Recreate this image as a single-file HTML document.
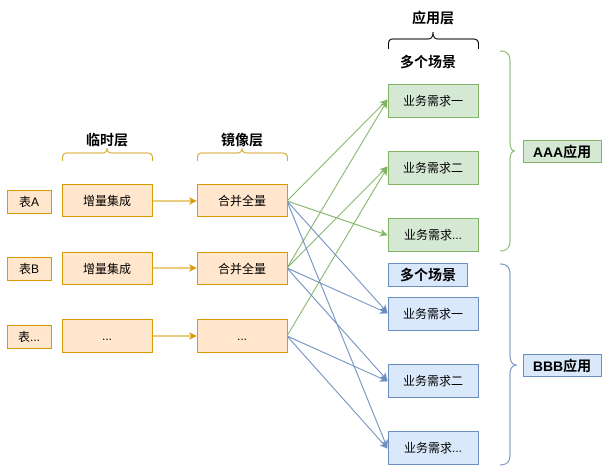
<!DOCTYPE html>
<html><head><meta charset="utf-8"><style>
html,body{margin:0;padding:0;background:#fff;width:608px;height:472px;overflow:hidden}
text{font-family:"Liberation Sans","Noto Sans CJK SC",sans-serif;font-size:12px;fill:#000}
.b{font-weight:bold;font-size:14px}
</style></head><body>
<svg width="608" height="472" viewBox="0 0 608 472" xmlns="http://www.w3.org/2000/svg">
<defs>
<marker id="ag" viewBox="0 0 10 10" refX="9" refY="5" markerWidth="8" markerHeight="8" orient="auto" markerUnits="userSpaceOnUse"><path d="M0,0 L10,5 L0,10 L3,5z" fill="#82b366"/></marker>
<marker id="ab" viewBox="0 0 10 10" refX="9" refY="5" markerWidth="8" markerHeight="8" orient="auto" markerUnits="userSpaceOnUse"><path d="M0,0 L10,5 L0,10 L3,5z" fill="#6c8ebf"/></marker>
<marker id="ao" viewBox="0 0 10 10" refX="9" refY="5" markerWidth="8" markerHeight="8" orient="auto" markerUnits="userSpaceOnUse"><path d="M0,0 L10,5 L0,10 L3,5z" fill="#d79b00"/></marker>
</defs>
<g fill="none" stroke-width="1">
<!-- braces -->
<path d="M62.5,161 V158 Q62.5,153 67,153 H102 Q107,153 107,148 Q107,153 112,153 H147 Q152.5,153 152.5,158 V161" stroke="#d6a72a"/>
<path d="M197.5,161 V158 Q197.5,153 202,153 H237 Q242,153 242,148 Q242,153 247,153 H282 Q287.5,153 287.5,158 V161" stroke="#d6a72a"/>
<path d="M388.5,49 V44 Q388.5,39 393,39 H428 Q433,39 433,32 Q433,39 438,39 H473 Q478.5,39 478.5,44 V49" stroke="#000"/>
<path d="M500,51 Q510,51 510,61 V141 Q510,151 515,151 Q510,151 510,161 V241 Q510,251 500,251" stroke="#82b366"/>
<path d="M500,264 Q510,264 510,274 V355 Q510,365 517,365 Q510,365 510,375 V455 Q510,465 500,465" stroke="#6c8ebf"/>
<!-- orange arrows -->
<line x1="152" y1="201" x2="196" y2="201" stroke="#d79b00" marker-end="url(#ao)"/>
<line x1="152" y1="268" x2="196" y2="268" stroke="#d79b00" marker-end="url(#ao)"/>
<line x1="152" y1="336" x2="196" y2="336" stroke="#d79b00" marker-end="url(#ao)"/>
<!-- green -->
<g stroke="#82b366">
<line x1="287" y1="201" x2="387" y2="100" marker-end="url(#ag)"/>
<line x1="287" y1="201" x2="387" y2="235" marker-end="url(#ag)"/>
<line x1="287" y1="268" x2="387" y2="101" marker-end="url(#ag)"/>
<line x1="287" y1="268" x2="387" y2="167" marker-end="url(#ag)"/>
<line x1="287" y1="336" x2="387" y2="168" marker-end="url(#ag)"/>
</g>
<g stroke="#6c8ebf">
<line x1="287" y1="201" x2="387" y2="312" marker-end="url(#ab)"/>
<line x1="287" y1="201" x2="387" y2="447" marker-end="url(#ab)"/>
<line x1="287" y1="268" x2="387" y2="313" marker-end="url(#ab)"/>
<line x1="287" y1="268" x2="387" y2="380" marker-end="url(#ab)"/>
<line x1="287" y1="336" x2="387" y2="381" marker-end="url(#ab)"/>
<line x1="287" y1="336" x2="387" y2="448" marker-end="url(#ab)"/>
</g>
<!-- orange boxes -->
<g fill="#ffe6cc" stroke="#d79b00">
<rect x="7.5" y="190.5" width="44" height="23"/><rect x="7.5" y="257.5" width="44" height="23"/><rect x="7.5" y="325.5" width="44" height="23"/>
<rect x="62.5" y="184.5" width="90" height="32"/><rect x="62.5" y="252.5" width="90" height="32"/><rect x="62.5" y="319.5" width="90" height="33"/>
<rect x="197.5" y="184.5" width="90" height="32"/><rect x="197.5" y="252.5" width="90" height="32"/><rect x="197.5" y="319.5" width="90" height="33"/>
</g>
<g fill="#d5e8d4" stroke="#82b366">
<rect x="388.5" y="84.5" width="90" height="33"/><rect x="388.5" y="151.5" width="90" height="33"/><rect x="388.5" y="218.5" width="90" height="33"/>
<rect x="523.5" y="140.5" width="78" height="22"/>
</g>
<g fill="#dae8fc" stroke="#6c8ebf">
<rect x="388.5" y="263.5" width="79" height="23"/>
<rect x="388.5" y="297.5" width="90" height="33"/><rect x="388.5" y="364.5" width="90" height="33"/><rect x="388.5" y="431.5" width="90" height="33"/>
<rect x="523.5" y="354.5" width="78" height="22"/>
</g>
</g>
<g text-anchor="middle">
<text class="b" x="107" y="145">临时层</text>
<text class="b" x="242" y="145">镜像层</text>
<text class="b" x="433" y="23">应用层</text>
<text class="b" x="428" y="67">多个场景</text>
<text class="b" x="428" y="280">多个场景</text>
<text class="b" x="562" y="157">AAA应用</text>
<text class="b" x="562" y="371">BBB应用</text>
<text x="29" y="206">表A</text><text x="29" y="273">表B</text><text x="29" y="341">表...</text>
<text x="107" y="205">增量集成</text><text x="107" y="273">增量集成</text><text x="107" y="340">...</text>
<text x="242" y="205">合并全量</text><text x="242" y="273">合并全量</text><text x="242" y="340">...</text>
<text x="433" y="105">业务需求一</text><text x="433" y="172">业务需求二</text><text x="433" y="239">业务需求...</text>
<text x="433" y="318">业务需求一</text><text x="433" y="385">业务需求二</text><text x="433" y="452">业务需求...</text>
</g>
</svg>
</body></html>
